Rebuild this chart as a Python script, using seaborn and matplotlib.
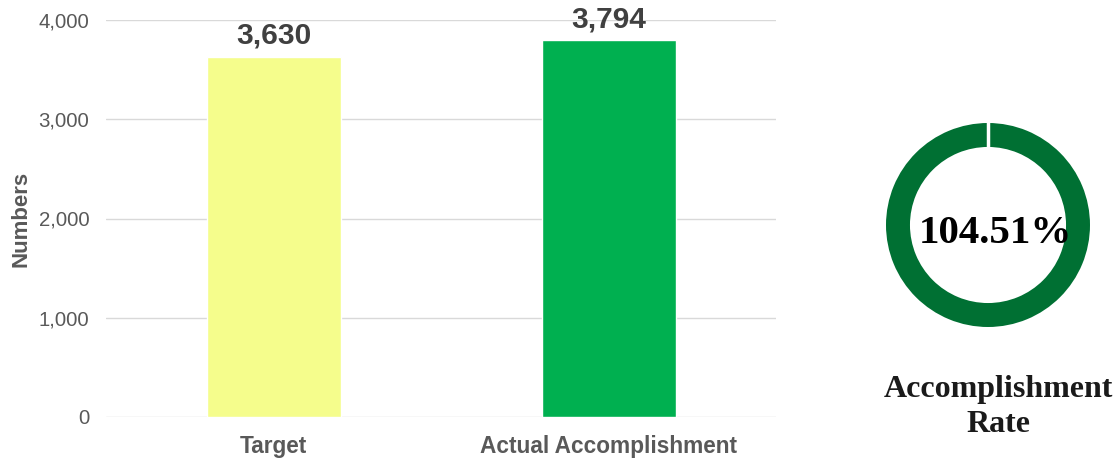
import matplotlib
matplotlib.use("Agg")
import matplotlib.pyplot as plt
import seaborn as sns
import pandas as pd

# Data
categories = ["Target", "Actual Accomplishment"]
values = [3630, 3794]
bar_colors = ["#F5FD8C", "#00B050"]
y_ticks = [0, 1000, 2000, 3000, 4000]
rate = 104.51

sns.set_style("white")
plt.rcParams['font.family'] = ['Liberation Sans', 'DejaVu Sans']

df = pd.DataFrame({"cat": categories, "val": values})

fig = plt.figure(figsize=(11.2, 4.59), dpi=100)

# Bar chart
ax = fig.add_axes([106/1120, 1 - 417/459, 670/1120, 397/459])
sns.barplot(data=df, x="cat", y="val", hue="cat", palette=bar_colors,
            width=0.40, legend=False, ax=ax, saturation=1)
ax.set_ylim(0, 4000)
ax.set_xlim(-0.5, 1.5)
ax.set_yticks(y_ticks)
ax.set_yticklabels([f"{t:,}" for t in y_ticks], fontsize=14.7, color="#595959")
ax.set_xticks(range(len(categories)))
ax.set_xticklabels(categories, fontsize=16.3, fontweight="bold", color="#595959")
ax.tick_params(axis="y", length=0, pad=12)
ax.tick_params(axis="x", length=0, pad=13)
ax.set_xlabel("")
ax.set_ylabel("Numbers", fontsize=16, fontweight="bold", color="#595959")
ax.yaxis.set_label_coords(-0.111, 0.5)
ax.yaxis.grid(True, color="#d9d9d9", linewidth=1)
ax.set_axisbelow(True)
for s in ax.spines.values():
    s.set_visible(False)

for i, v in enumerate(values):
    ax.annotate(f"{v:,}", (i, v), xytext=(0, 5), textcoords="offset points",
                ha="center", va="bottom", fontsize=21.5, fontweight="bold", color="#404040")

# Donut for accomplishment rate
ax2 = fig.add_axes([(988 - 102)/1120, 1 - (225 + 102)/459, 204/1120, 204/459])
ax2.pie([rate], colors=["#007033"], startangle=90, counterclock=False, radius=1,
        wedgeprops=dict(width=0.235, linewidth=0))
ax2.plot([0, 0], [0.7, 1.05], color="white", linewidth=2.5)  # small gap at the top
ax2.set_xlim(-1, 1)
ax2.set_ylim(-1, 1)
ax2.set_aspect("equal")
ax2.axis("off")
ax2.text(0.07, -0.08, f"{rate:.2f}%", ha="center", va="center", fontsize=29.5,
         fontweight="bold", family=["Liberation Serif", "DejaVu Serif"], color="black")

fig.text(998/1120, 1 - 407/459, "Accomplishment\nRate", ha="center", va="center",
         fontsize=23, fontweight="bold", family=["Liberation Serif", "DejaVu Serif"],
         color="#1a1a1a", linespacing=1.3)

fig.savefig("out.png", dpi=100)
